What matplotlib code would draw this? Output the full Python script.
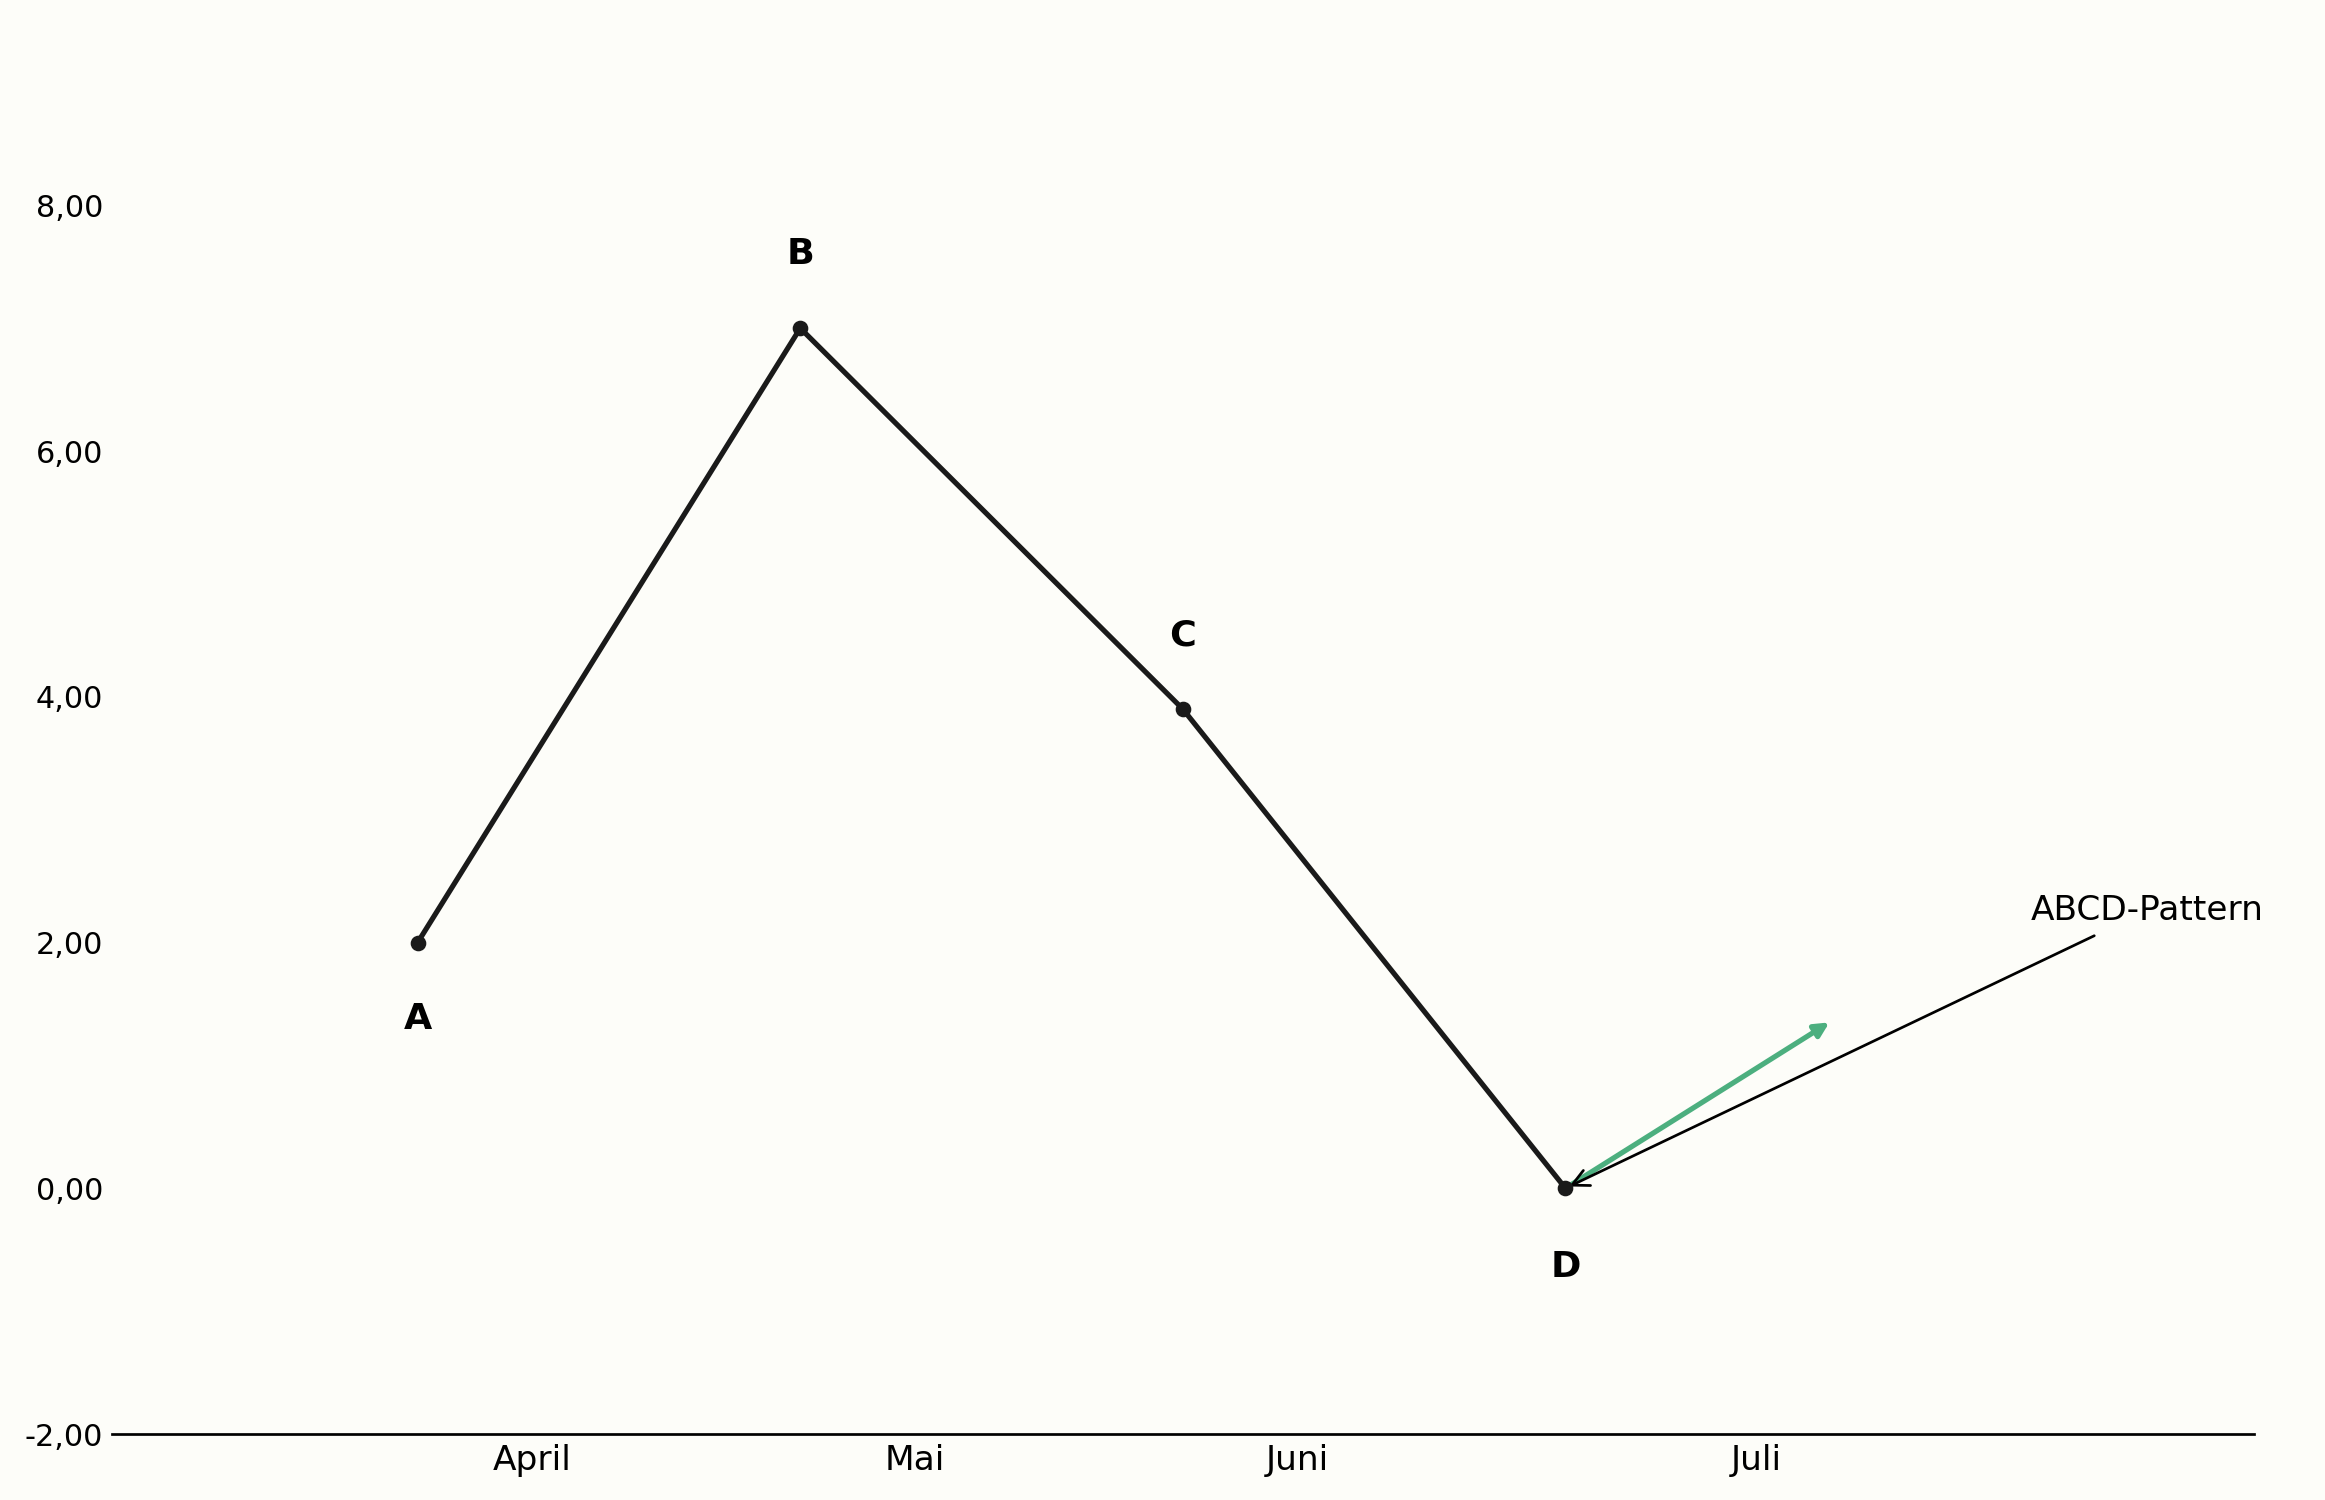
import matplotlib
matplotlib.use('Agg')
import matplotlib.pyplot as plt
from matplotlib.ticker import FuncFormatter

# Punkte des ABCD-Musters
punkte = ['A', 'B', 'C', 'D']
x_pos = [0, 1, 2, 3]
werte = [2.0, 7.0, 3.9, 0.0]
label_dy = [-0.62, 0.6, 0.6, -0.64]

# Monatsbeschriftung der x-Achse
monate = ['April', 'Mai', 'Juni', 'Juli']
monat_pos = [0.3, 1.3, 2.3, 3.5]

y_ticks = [-2, 0, 2, 4, 6, 8]

# Pfeil für die Fortsetzung
pfeil_start = (3, 0.0)
pfeil_ende = (3.69, 1.35)
text_pos = (4.52, 2.26)

bg = '#fdfdf9'
fig = plt.figure(figsize=(15.5, 10), dpi=150, facecolor=bg)
ax = fig.add_axes([0.048, 0.044, 0.9215, 0.942], facecolor=bg)

ax.plot(x_pos, werte, color='#1a1a1a', lw=2.5, marker='o', markersize=6.5, zorder=4)

for p, x, y, dy in zip(punkte, x_pos, werte, label_dy):
    ax.text(x, y + dy, p, ha='center', va='center', fontsize=17.5, fontweight='bold')

ax.annotate('', xy=pfeil_ende, xytext=pfeil_start,
            arrowprops=dict(arrowstyle='-|>', color='#4caf7f', lw=2.5,
                            mutation_scale=14, shrinkA=0, shrinkB=0), zorder=3)
ax.annotate('ABCD-Pattern', xy=pfeil_start, xytext=text_pos,
            ha='center', va='center', fontsize=16.5,
            arrowprops=dict(arrowstyle='->', color='black', lw=1.3,
                            mutation_scale=20, shrinkA=5, shrinkB=2), zorder=3)

ax.set_xlim(-0.8, 4.8)
ax.set_ylim(-2, 9.5)
ax.set_xticks(monat_pos)
ax.set_xticklabels(monate, fontsize=16.5)
ax.set_yticks(y_ticks)
ax.yaxis.set_major_formatter(FuncFormatter(lambda v, _: f'{v:.2f}'.replace('.', ',')))
ax.tick_params(axis='y', labelsize=14.5, length=0, pad=4)
ax.tick_params(axis='x', length=0, pad=5)

for s in ['top', 'right', 'left']:
    ax.spines[s].set_visible(False)
ax.spines['bottom'].set_linewidth(1.3)

fig.savefig('out.png', dpi=150, facecolor=bg)
